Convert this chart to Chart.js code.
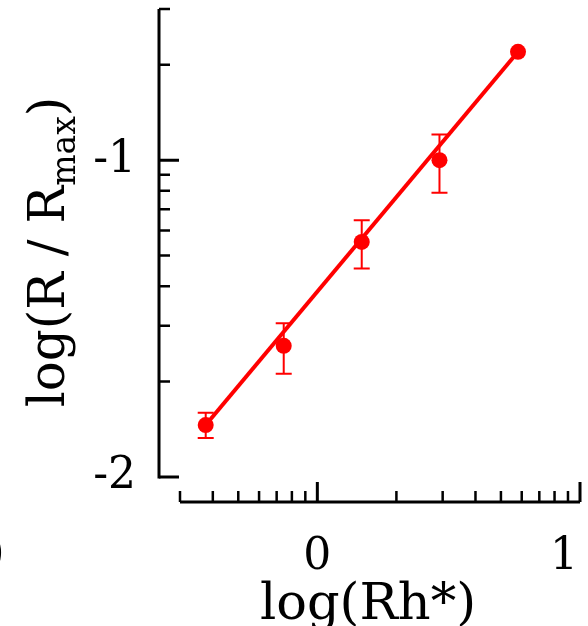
<!DOCTYPE html>
<html>
<head>
<meta charset="utf-8">
<script src="https://cdn.jsdelivr.net/npm/chart.js@4.4.1/dist/chart.umd.min.js"></script>
<style>
  html, body { margin: 0; padding: 0; background: #fff; }
  #wrap { width: 588px; height: 626px; }
</style>
</head>
<body>
<div id="wrap"><canvas id="myChart"></canvas></div>
<script>
// measured points, log units
let logRh = [-0.425, -0.128, 0.169, 0.465, 0.764];
let logR = [-1.836, -1.586, -1.258, -1.0, -0.658];
let errUp = [0.039, 0.071, 0.068, 0.081, 0];
let errDown = [0.041, 0.088, 0.084, 0.103, 0];

// fitted line end points
let fitX = [-0.425, 0.764];
let fitY = [-1.836, -0.658];

// axes
let xMajor = [0, 1];
let xTickLabels = ["0", "1"];
let yMajor = [-2, -1];
let yTickLabels = ["-2", "-1"];
let xRange = [Math.log10(0.3), 1];
let yRange = [-2, Math.log10(0.3)];

const red = "#ff0000";
const serif = "'DejaVu Serif', 'Liberation Serif', serif";

// minor tick positions inside the axis range (log spacing)
function minorTicks(range) {
  let out = [];
  for (let d = Math.floor(range[0]); d < Math.ceil(range[1]); d++) {
    for (let k = 2; k <= 9; k++) {
      let v = d + Math.log10(k);
      if (v >= range[0] - 1e-6 && v <= range[1] + 1e-6) out.push(v);
    }
  }
  return out;
}

const axesPlugin = {
  id: "axesPlugin",
  beforeDatasetsDraw(chart) {
    const ctx = chart.ctx;
    const xs = chart.scales.x, ys = chart.scales.y;
    ctx.save();
    ctx.strokeStyle = red;
    ctx.lineWidth = 2;
    for (let i = 0; i < logRh.length; i++) {
      if (!errUp[i] && !errDown[i]) continue;
      let px = xs.getPixelForValue(logRh[i]);
      let top = ys.getPixelForValue(logR[i] + errUp[i]);
      let bot = ys.getPixelForValue(logR[i] - errDown[i]);
      ctx.beginPath();
      ctx.moveTo(px, top); ctx.lineTo(px, bot);
      ctx.moveTo(px - 8, top); ctx.lineTo(px + 8, top);
      ctx.moveTo(px - 8, bot); ctx.lineTo(px + 8, bot);
      ctx.stroke();
    }
    ctx.restore();
  },
  afterDraw(chart) {
    const ctx = chart.ctx;
    const xs = chart.scales.x, ys = chart.scales.y;
    const area = chart.chartArea;
    const axX = area.left - 21;   // y axis line
    const axY = area.bottom + 25; // x axis line
    ctx.save();
    ctx.strokeStyle = "#000";
    ctx.lineCap = "butt";

    // y axis
    ctx.lineWidth = 3;
    ctx.beginPath();
    ctx.moveTo(axX, ys.getPixelForValue(yRange[0]) + 1.5);
    ctx.lineTo(axX, ys.getPixelForValue(yRange[1]));
    ctx.stroke();
    ctx.lineWidth = 2.5;
    ctx.beginPath();
    minorTicks(yRange).forEach(v => {
      let p = ys.getPixelForValue(v);
      ctx.moveTo(axX, p); ctx.lineTo(axX + 11, p);
    });
    ctx.stroke();
    ctx.lineWidth = 3;
    ctx.beginPath();
    yMajor.forEach(v => {
      let p = ys.getPixelForValue(v);
      ctx.moveTo(axX, p); ctx.lineTo(axX + 20, p);
    });
    ctx.stroke();

    // x axis
    ctx.lineWidth = 3;
    ctx.beginPath();
    ctx.moveTo(xs.getPixelForValue(xRange[0]), axY);
    ctx.lineTo(xs.getPixelForValue(xRange[1]), axY);
    ctx.stroke();
    ctx.lineWidth = 2.5;
    ctx.beginPath();
    minorTicks(xRange).forEach(v => {
      let p = xs.getPixelForValue(v);
      ctx.moveTo(p, axY); ctx.lineTo(p, axY - 11);
    });
    ctx.stroke();
    ctx.lineWidth = 3;
    ctx.beginPath();
    xMajor.forEach(v => {
      let p = xs.getPixelForValue(v);
      ctx.moveTo(p, axY); ctx.lineTo(p, axY - 20);
    });
    ctx.stroke();

    // tick labels
    ctx.fillStyle = "#000";
    ctx.font = "44px " + serif;
    ctx.textBaseline = "middle";
    ctx.textAlign = "right";
    yMajor.forEach((v, i) => {
      ctx.fillText(yTickLabels[i], 136, ys.getPixelForValue(v));
    });
    ctx.textAlign = "center";
    xMajor.forEach((v, i) => {
      let p = Math.min(xs.getPixelForValue(v), chart.width - 24);
      ctx.fillText(xTickLabels[i], p, 558);
    });
    // cut-off label from the neighbouring panel
    ctx.fillText("0", -10, 558);

    // x title
    ctx.textBaseline = "alphabetic";
    ctx.font = "51px " + serif;
    ctx.fillText("log(Rh*)", 368, 619);

    // y title with subscript
    ctx.save();
    ctx.translate(64, 252);
    ctx.rotate(-Math.PI / 2);
    ctx.textAlign = "left";
    const big = "50px " + serif, small = "33px " + serif;
    ctx.font = big;
    let a = "log(R / R", c = ")";
    let wa = ctx.measureText(a).width, wc = ctx.measureText(c).width;
    ctx.font = small;
    let wb = ctx.measureText("max").width;
    let x0 = -(wa + wb + wc) / 2;
    ctx.font = big;
    ctx.fillText(a, x0, 0);
    ctx.font = small;
    ctx.fillText("max", x0 + wa, 11);
    ctx.font = big;
    ctx.fillText(c, x0 + wa + wb, 0);
    ctx.restore();

    ctx.restore();
  }
};

let ctx = document.getElementById("myChart").getContext("2d");

let myChart = new Chart(ctx, {
  type: "scatter",
  data: {
    datasets: [
      {
        label: "fit",
        data: fitX.map((x, i) => ({ x: x, y: fitY[i] })),
        showLine: true,
        borderColor: red,
        borderWidth: 4,
        pointRadius: 0,
        fill: false,
      },
      {
        label: "data",
        data: logRh.map((x, i) => ({ x: x, y: logR[i] })),
        backgroundColor: red,
        borderColor: red,
        borderWidth: 0,
        pointRadius: 8,
      },
    ],
  },
  options: {
    responsive: true,
    maintainAspectRatio: false,
    animation: false,
    layout: { padding: { left: 180, right: 3, top: 9, bottom: 149 } },
    plugins: { legend: { display: false }, tooltip: { enabled: false } },
    scales: {
      x: { type: "linear", min: xRange[0], max: xRange[1], display: false },
      y: { type: "linear", min: yRange[0], max: yRange[1], display: false },
    },
  },
  plugins: [axesPlugin],
});
</script>
</body>
</html>
